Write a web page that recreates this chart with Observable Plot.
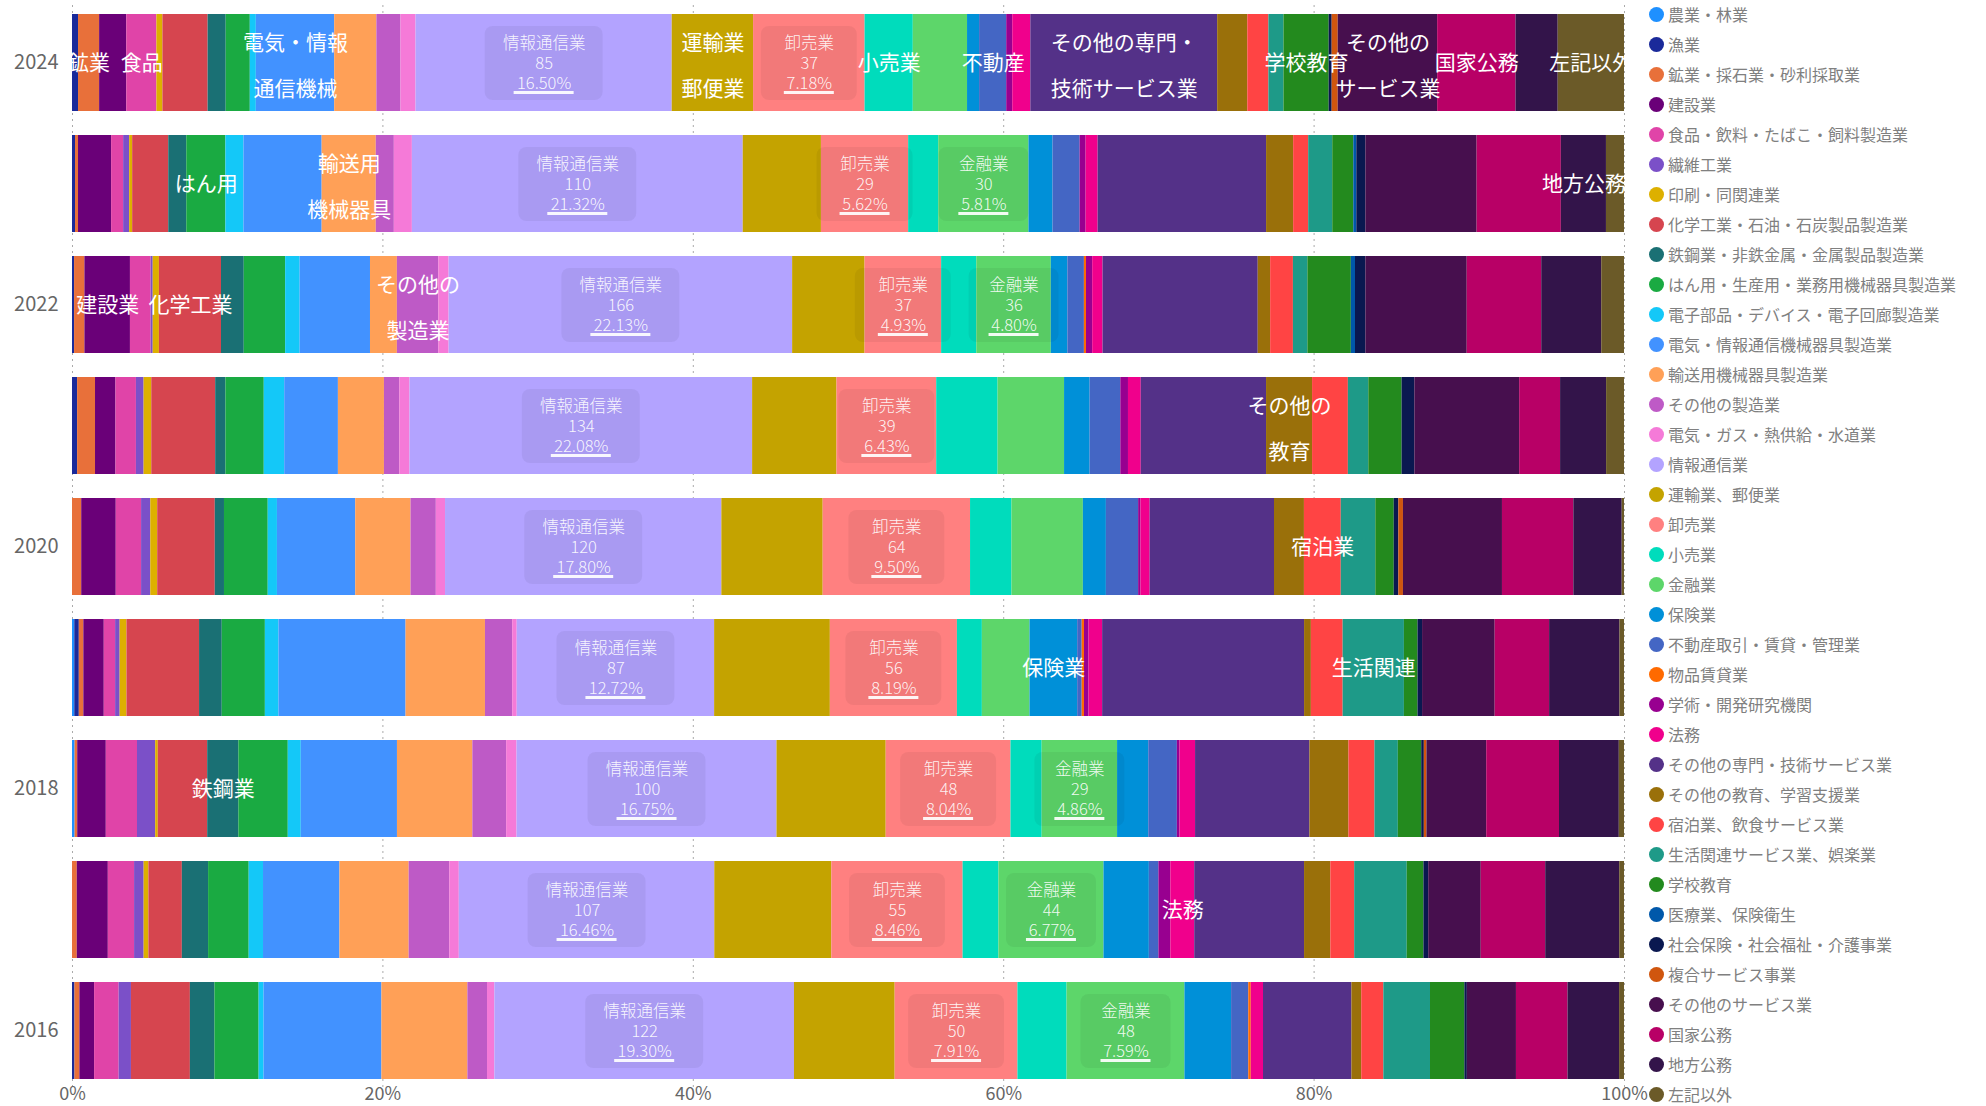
<!DOCTYPE html>
<html><head><meta charset="utf-8">
<script src="https://cdn.jsdelivr.net/npm/d3@7"></script>
<script src="https://cdn.jsdelivr.net/npm/@observablehq/plot@0.6"></script>
<style>
body{margin:0;background:#fff;font-family:"Noto Sans CJK JP",sans-serif;}
#wrap{position:relative;width:1986px;height:1106px;overflow:hidden;}
#chart{position:absolute;left:0;top:0;}
#legend{position:absolute;left:1649px;top:-1px;}
.item{height:30px;display:flex;align-items:center;font-size:16px;color:#808080;white-space:nowrap;}
.dot{width:15px;height:15px;border-radius:50%;margin-right:4px;flex:none;}
</style></head><body><div id="wrap"><div id="chart"></div><div id="legend"></div></div>
<script>
const categories = ["農業・林業","漁業","鉱業・採石業・砂利採取業","建設業","食品・飲料・たばこ・飼料製造業","繊維工業","印刷・同関連業","化学工業・石油・石炭製品製造業","鉄鋼業・非鉄金属・金属製品製造業","はん用・生産用・業務用機械器具製造業","電子部品・デバイス・電子回廊製造業","電気・情報通信機械器具製造業","輸送用機械器具製造業","その他の製造業","電気・ガス・熱供給・水道業","情報通信業","運輸業、郵便業","卸売業","小売業","金融業","保険業","不動産取引・賃貸・管理業","物品賃貸業","学術・開発研究機関","法務","その他の専門・技術サービス業","その他の教育、学習支援業","宿泊業、飲食サービス業","生活関連サービス業、娯楽業","学校教育","医療業、保険衛生","社会保険・社会福祉・介護事業","複合サービス事業","その他のサービス業","国家公務","地方公務","左記以外"];
const colors = ["#1E90FF","#1A2A9A","#E8703A","#6A0078","#E044A8","#7B50C8","#DDB000","#D6454F","#1A7074","#1AAA42","#14C8F8","#4292FF","#FFA057","#BE5AC6","#F57AD8","#B3A3FF","#C4A300","#FF8080","#00DCBC","#5DD66A","#0090D8","#4466C4","#FF6A00","#980090","#F0008C","#543188","#9A700A","#FF4444","#1E9A88","#238A1E","#0058AA","#0A1850","#D0560E","#470F4E","#B80066","#33144A","#6B5A28"];
const years = ["2024","2023","2022","2021","2020","2019","2018","2017","2016"];
const yearTicks = ["2024","2022","2020","2018","2016"];
const xTicks = [0, 0.2, 0.4, 0.6, 0.8, 1];

const v2024 = [0,2,7,9,10,0,2,15,6,8,2,26,14,8,5,85,27,37,16,18,4,9,0,2,6,62,10,7,5,15,0,1,2,33,26,14,22];
const v2023 = [0,1,1,11,4,2,1,12,6,13,6,26,18,6,6,110,26,29,10,30,8,9,0,2,4,56,9,5,8,7,1,3,0,37,28,15,6];
const v2022 = [0,1,5,22,10,1,3,30,11,20,7,34,13,20,5,166,35,37,17,36,8,8,1,3,5,75,6,11,7,21,2,5,0,49,36,29,11];
const v2021 = [0,2,7,8,8,3,3,25,4,15,8,21,18,6,4,134,33,39,24,26,10,12,0,3,5,49,18,14,8,13,0,5,0,41,16,18,7];
const v2020 = [0,0,4,15,11,4,3,25,4,19,4,34,24,11,4,120,44,64,18,31,10,14,0,1,4,54,13,16,15,8,0,2,2,43,31,21,1];
const v2019 = [1,2,2,9,5,2,3,32,10,19,6,56,35,12,2,87,51,56,11,21,21,2,1,2,6,89,3,14,27,6,0,2,0,32,24,31,2];
const v2018 = [1,0,1,11,12,7,1,19,12,19,5,37,29,13,4,100,42,48,12,29,12,11,0,1,6,44,15,10,9,9,0,1,1,23,28,23,2];
const v2017 = [0,0,2,13,11,4,2,14,11,17,6,32,29,17,4,107,49,55,15,44,19,4,0,5,10,46,11,10,22,7,0,2,0,22,27,31,2];
const v2016 = [0,1,2,6,10,5,0,24,10,18,2,48,35,8,3,122,41,50,20,48,19,7,1,0,5,36,4,9,19,14,0,1,0,20,21,21,2];

const bigLabels = [
  ["2024","鉱業・採石業・砂利採取業","鉱業"],
  ["2024","食品・飲料・たばこ・飼料製造業","食品"],
  ["2024","電気・情報通信機械器具製造業","電気・情報\n通信機械"],
  ["2024","運輸業、郵便業","運輸業\n郵便業"],
  ["2024","小売業","小売業"],
  ["2024","不動産取引・賃貸・管理業","不動産"],
  ["2024","その他の専門・技術サービス業","その他の専門・\n技術サービス業"],
  ["2024","学校教育","学校教育"],
  ["2024","その他のサービス業","その他の\nサービス業"],
  ["2024","国家公務","国家公務"],
  ["2024","左記以外","左記以外"],
  ["2023","はん用・生産用・業務用機械器具製造業","はん用"],
  ["2023","輸送用機械器具製造業","輸送用\n機械器具"],
  ["2023","地方公務","地方公務"],
  ["2022","建設業","建設業"],
  ["2022","化学工業・石油・石炭製品製造業","化学工業"],
  ["2022","その他の製造業","その他の\n製造業"],
  ["2021","その他の教育、学習支援業","その他の\n教育"],
  ["2020","宿泊業、飲食サービス業","宿泊業"],
  ["2019","保険業","保険業"],
  ["2019","生活関連サービス業、娯楽業","生活関連"],
  ["2018","鉄鋼業・非鉄金属・金属製品製造業","鉄鋼業"],
  ["2017","法務","法務"]
];
const boxedInfo = "情報通信業";
const boxedWholesale = "卸売業";
const boxedFinance = "金融業";
const financeYears = ["2023","2022","2018","2017","2016"];

const values = {"2024":v2024,"2023":v2023,"2022":v2022,"2021":v2021,"2020":v2020,"2019":v2019,"2018":v2018,"2017":v2017,"2016":v2016};
const rows = [];
const info = new Map();
for (const y of years) {
  const v = values[y];
  const tot = d3.sum(v);
  let c = 0;
  v.forEach((n, i) => {
    rows.push({year: y, cat: categories[i], value: n});
    info.set(y + "|" + categories[i], {mid: (c + n / 2) / tot, n, tot});
    c += n;
  });
}
const big = bigLabels.map(([y, cat, text]) => ({year: y, x: info.get(y + "|" + cat).mid, text}));
const big1 = big.filter(d => !d.text.includes("\n"));
const big2 = big.filter(d => d.text.includes("\n"));
function boxRows(cat, ys) {
  return ys.map(y => {
    const d = info.get(y + "|" + cat);
    return {year: y, x: d.mid, name: cat, n: String(d.n), pct: (d.n / d.tot * 100).toFixed(2) + "%"};
  });
}
const boxes = [
  {data: boxRows(boxedInfo, years), w: 118},
  {data: boxRows(boxedWholesale, years), w: 96},
  {data: boxRows(boxedFinance, financeYears), w: 90}
];
const allBox = boxes.flatMap(b => b.data);
const pct5 = allBox.filter(d => d.pct.length <= 5);
const pct6 = allBox.filter(d => d.pct.length > 5);
const txt = {fill: "white", fillOpacity: 0.92, fontSize: 16.5, x: "x", y: "year", fontWeight: 300};
const ul = {x1: "x", x2: "x", y: "year", insetTop: 77, insetBottom: 17, fill: "white", fillOpacity: 0.92};

const chart = Plot.plot({
  width: 1664, height: 1106,
  marginLeft: 72, marginRight: 40, marginTop: 5, marginBottom: 18,
  style: {fontFamily: '"Noto Sans CJK JP", sans-serif', background: "transparent"},
  x: {domain: [0, 1]},
  y: {domain: years, paddingInner: 0.2, paddingOuter: 0.05},
  color: {domain: categories, range: colors},
  marks: [
    Plot.ruleX(xTicks, {stroke: "#aaa", strokeDasharray: "2,4"}),
    Plot.barX(rows, Plot.stackX({x: "value", y: "year", fill: "cat", offset: "normalize"})),
    ...boxes.map(b => Plot.barX(b.data, {x1: "x", x2: "x", y: "year", insetLeft: -b.w / 2, insetRight: -b.w / 2, insetTop: 12, insetBottom: 11, rx: 8, fill: "black", fillOpacity: 0.05})),
    Plot.text(allBox, {...txt, text: "name", dy: -19}),
    Plot.text(allBox, {...txt, text: "n", dy: 1}),
    Plot.text(allBox, {...txt, text: "pct", dy: 21}),
    Plot.barX(pct6, {...ul, insetLeft: -30, insetRight: -30}),
    Plot.barX(pct5, {...ul, insetLeft: -25, insetRight: -25}),
    Plot.text(big1, {x: "x", y: "year", text: "text", fill: "white", fontSize: 21}),
    Plot.text(big2, {x: "x", y: "year", text: "text", fill: "white", fontSize: 21, lineHeight: 46 / 21, dy: -4.5}),
    Plot.axisX({ticks: xTicks, tickFormat: d => Math.round(d * 100) + "%", tickSize: 0, tickPadding: -1, fontSize: 18, fill: "#666", label: null}),
    Plot.axisY({ticks: yearTicks, tickSize: 0, tickPadding: 14, fontSize: 20, fill: "#666", label: null})
  ]
});
document.getElementById("chart").appendChild(chart);

const legend = document.getElementById("legend");
categories.forEach((c, i) => {
  const it = document.createElement("div");
  it.className = "item";
  it.innerHTML = `<span class="dot" style="background:${colors[i]}"></span><span>${c}</span>`;
  legend.appendChild(it);
});
</script></body></html>
